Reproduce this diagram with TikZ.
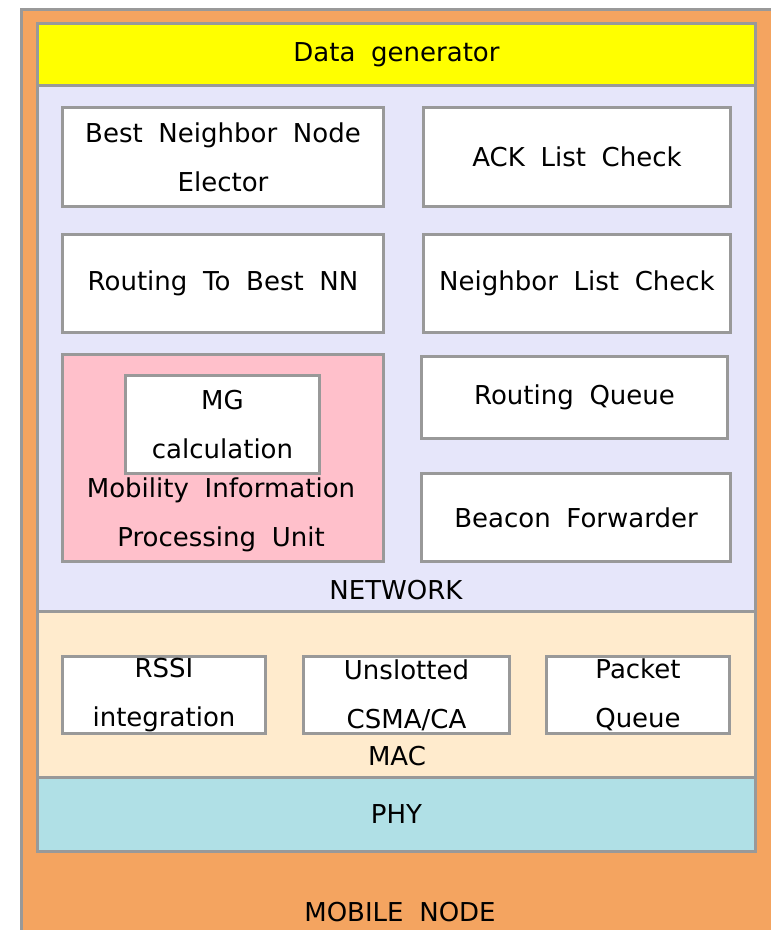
\documentclass[tikz,border=0pt]{standalone}
\usepackage{fontspec}
\setmainfont{DejaVu Sans}[WordSpace=1.9]
\usepackage{xcolor}
\usetikzlibrary{positioning}
\definecolor{nodeorange}{HTML}{F4A460}
\definecolor{gengold}{HTML}{FFFF00}
\definecolor{netlav}{HTML}{E6E6FA}
\definecolor{macbisque}{HTML}{FFEBCD}
\definecolor{phyblue}{HTML}{B0E0E6}
\definecolor{mipink}{HTML}{FFC0CB}
\definecolor{edgegray}{HTML}{999999}

\begin{document}
\begin{tikzpicture}[
  x=1pt, y=-1pt,
  layer/.style={draw=edgegray, line width=3pt, anchor=north west, inner sep=0pt,
    font=\fontsize{26}{30}\selectfont},
  unit/.style={draw=edgegray, line width=3pt, fill=white, anchor=north west, inner sep=0pt,
    align=center, font=\fontsize{26}{49}\selectfont},
  tag/.style={inner sep=0pt, align=center, font=\fontsize{26}{49}\selectfont}
]
\useasboundingbox (0,0) rectangle (771,930);
\clip (0,0) rectangle (771,930);

% mobile node and its layers
\node[layer, fill=nodeorange, minimum width=770pt, minimum height=940pt] (mobile) at (20,8) {};
\node[tag] (mobilelbl) at (400,912) {MOBILE NODE};
\node[layer, fill=gengold, minimum width=718pt, minimum height=62pt] (gen) at (36,22) {Data generator};
\node[layer, fill=netlav, minimum width=718pt, minimum height=526pt] (net) at (36,84) {};
\node[layer, fill=macbisque, minimum width=718pt, minimum height=166pt] (mac) at (36,610) {};
\node[layer, fill=phyblue, minimum width=718pt, minimum height=74pt] (phy) at (36,776) {PHY};

% network units
\node[unit, minimum width=321pt, minimum height=99pt] (elector) at (61,106) {Best Neighbor Node\\Elector};
\node[unit, minimum width=307pt, minimum height=99pt] (ack) at (422,106) {ACK List Check};
\node[unit, minimum width=321pt, minimum height=98pt] (routebest) at (61,233) {Routing To Best NN};
\node[unit, minimum width=307pt, minimum height=98pt] (nbcheck) at (422,233) {Neighbor List Check};
\node[unit, fill=mipink, minimum width=321pt, minimum height=207pt] (mobility) at (61,353) {};
\node[unit, minimum width=194pt, minimum height=98pt] (mg) at (124,374) {MG\\calculation};
\node[tag] (mobilitylbl) at (221,515) {Mobility Information\\Processing Unit};
\node[unit, minimum width=306pt, minimum height=82pt] (rqueue) at (420,355) {Routing Queue};
\node[unit, minimum width=309pt, minimum height=88pt] (beacon) at (420,472) {Beacon Forwarder};
\node[tag] (netlbl) at (396,590) {NETWORK};

% mac units
\node[unit, minimum width=203pt, minimum height=77pt] (rssi) at (61,655) {RSSI\\integration};
\node[unit, minimum width=206pt, minimum height=77pt] (csma) at (302,655) {Unslotted\\CSMA/CA};
\node[unit, minimum width=183pt, minimum height=77pt] (pqueue) at (545,655) {Packet\\Queue};
\node[tag] (maclbl) at (397,756) {MAC};
\end{tikzpicture}
\end{document}
